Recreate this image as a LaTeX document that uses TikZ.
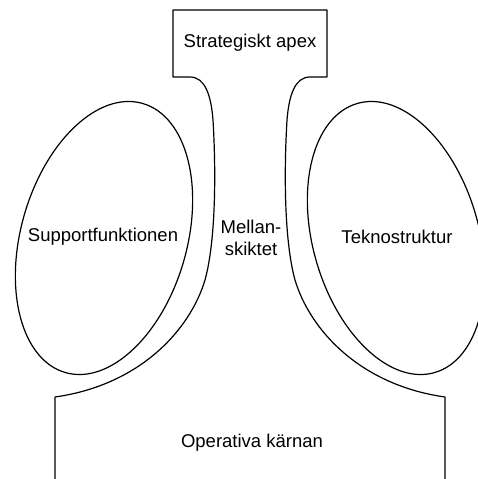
\documentclass[tikz,border=0pt]{standalone}
\usepackage{fontspec}
\setmainfont{Liberation Sans}
\begin{document}
\begin{tikzpicture}[x=1pt,y=-1pt,
  outline/.style={draw=black,line width=1.2pt,line join=round},
  lbl/.style={font=\fontsize{18.5}{22}\selectfont,align=center,inner sep=0pt}]
\useasboundingbox (0,0) rectangle (477,479);
% main outline: operating core, middle line, strategic apex
\draw[outline] (55,479) -- (55,397)
  .. controls (140,385) and (190,330) .. (205,280)
  .. controls (216,240) and (216,170) .. (213,120)
  .. controls (211,95) and (205,77) .. (190,77)
  -- (173,77) -- (173,10) -- (327,10) -- (327,77) -- (310,77)
  .. controls (295,77) and (289,95) .. (287,120)
  .. controls (284,170) and (284,240) .. (295,280)
  .. controls (310,330) and (360,385) .. (445,397)
  -- (445,479);
% support staff and technostructure
\draw[outline, rotate around={-16:(104,238)}] (104,238) ellipse [x radius=83pt, y radius=140pt];
\draw[outline, rotate around={16:(396,238)}] (396,238) ellipse [x radius=83pt, y radius=140pt];
% labels
\node[lbl] (apex) at (250,43) {Strategiskt apex};
\node[lbl] (support) at (103,237) {Supportfunktionen};
\node[lbl] (tekno) at (397,237) {Teknostruktur};
\node[lbl] (mellan) at (251,238) {Mellan-\\skiktet};
\node[lbl] (core) at (252,443) {Operativa kärnan};
\end{tikzpicture}
\end{document}
